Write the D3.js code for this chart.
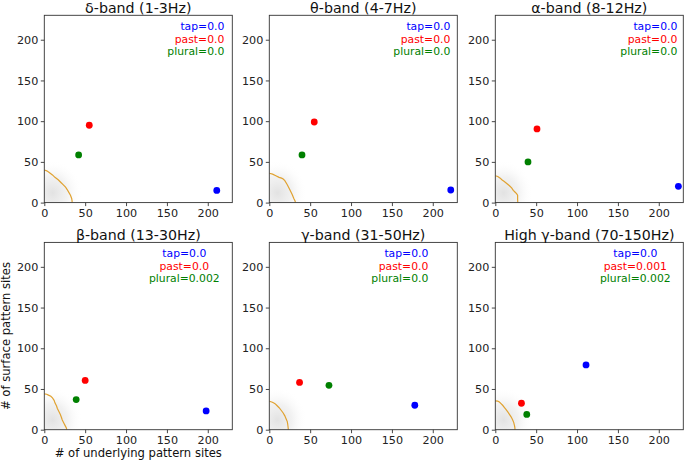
<!DOCTYPE html>
<html><head><meta charset="utf-8">
<script src="https://cdn.jsdelivr.net/npm/d3@7"></script>
<style>body{margin:0;background:#fff}svg{display:block}text{font-family:"DejaVu Sans",sans-serif}</style>
</head><body><svg id="c" width="685" height="462"></svg>
<script>
const titles = ["δ-band (1-3Hz)","θ-band (4-7Hz)","α-band (8-12Hz)","β-band (13-30Hz)","γ-band (31-50Hz)","High γ-band (70-150Hz)"];
const seriesNames = ["tap","past","plural"];
const seriesColors = ["#0000ff","#ff0000","#008000"];
const pValues = [
  ["0.0","0.0","0.0"],["0.0","0.0","0.0"],["0.0","0.0","0.0"],
  ["0.0","0.0","0.002"],["0.0","0.0","0.0"],["0.0","0.001","0.002"]];
const tapPts = [[211,15],[222,15.5],[224,20],[198,23],[178,30],[111,79.5]];
const pastPts = [[55,95],[55,99],[51,90.5],[50,60.5],[37,58],[32,32.5]];
const pluralPts = [[42,58.5],[40,58.5],[40,50],[39,37],[73,54.5],[38.5,18.7]];
const thresholdCurves = [
  [[0,40],[3,39],[6,37],[10,34],[13,31],[17,28],[20,25],[23,22],[26,19],[28,16],[30,12.5],[32,9],[33.5,5],[34,2],[34,0]],
  [[0,36],[4,35],[8,33],[12,31],[15,30],[17,29],[19,27],[22,22],[25,16],[28,10],[30,5],[31.5,2],[32,0]],
  [[0,33],[3,32],[6,30],[8,28],[11,26],[14,23.5],[17,21],[20,18],[22,15],[24,13],[26,11],[27.3,9],[27.3,4],[27.5,0]],
  [[0,44],[3,43.5],[5,42.5],[8,41],[10,39],[12,36],[13,33],[15,29],[16,26],[18,22],[19.5,19],[21,15],[22,12],[24,8],[25.5,5],[27,2],[27.5,0]],
  [[0,35],[3,34],[5,33],[7,32],[9,30],[12,27],[14,24.5],[17,20.5],[19,17],[20.5,13.5],[22,10],[22.5,7],[23,3],[23.3,0]],
  [[0,35.5],[3,35],[5,34],[7,32],[9,30],[11,27.5],[13,25],[15.5,21.5],[17.5,18.5],[19.5,15.5],[21,12.5],[22.5,9],[23.5,5],[24,2],[24,0]]
];
const ticks = [0,50,100,150,200];
const xLabel = "# of underlying pattern sites";
const yLabel = "# of surface pattern sites";

const svg = d3.select("#c");
const defs = svg.append("defs");
const grad = defs.append("radialGradient").attr("id","cloud");
grad.append("stop").attr("offset","0%").attr("stop-color","#cfcfcf").attr("stop-opacity",0.6);
grad.append("stop").attr("offset","50%").attr("stop-color","#e2e2e2").attr("stop-opacity",0.45);
grad.append("stop").attr("offset","100%").attr("stop-color","#ffffff").attr("stop-opacity",0);

const lefts = [44.3, 269.3, 495.3];
const tops = [15.3, 242.4];
const W = 188, H = 187.3;
const legendAnchor = ["end","end","end","middle","end","middle"];
const legendOffset = [180, 181, 182, 140, 159, 140];

titles.forEach((t,i)=>{
  const col = i%3, row = Math.floor(i/3);
  const x0 = lefts[col], y0 = tops[row];
  const g = svg.append("g").attr("transform",`translate(${x0},${y0})`);
  const x = d3.scaleLinear().domain([0,230]).range([0,W]);
  const y = d3.scaleLinear().domain([0,230]).range([H,0]);
  defs.append("clipPath").attr("id","clip"+i).append("rect").attr("width",W).attr("height",H);
  const pg = g.append("g").attr("clip-path",`url(#clip${i})`);
  // null-distribution cloud
  pg.append("ellipse").attr("cx",x(10)).attr("cy",y(12)).attr("rx",x(36)-x(0)).attr("ry",y(0)-y(40))
    .attr("fill","url(#cloud)");
  // threshold curve
  pg.append("path").datum(thresholdCurves[i])
    .attr("d",d3.line().x(d=>x(d[0])).y(d=>y(d[1])))
    .attr("fill","none").attr("stroke","#e0a231").attr("stroke-width",1.2);
  // points
  const pts = [tapPts[i], pastPts[i], pluralPts[i]];
  pts.forEach((p,k)=>{
    pg.append("circle").attr("cx",x(p[0])).attr("cy",y(p[1])).attr("r",3.4).attr("fill",seriesColors[k]);
  });
  // axes
  const xa = g.append("g").attr("transform",`translate(0,${H})`)
    .call(d3.axisBottom(x).tickValues(ticks).tickSize(3.5).tickPadding(2.5));
  const ya = g.append("g").call(d3.axisLeft(y).tickValues(ticks).tickSize(3.5).tickPadding(2.5));
  [xa,ya].forEach(a=>{
    a.select(".domain").remove();
    a.selectAll("line").attr("stroke","#333").attr("stroke-width",0.9);
    a.selectAll("text").attr("font-size",11.2).attr("fill","#222").attr("font-family","DejaVu Sans");
  });
  g.append("rect").attr("width",W).attr("height",H).attr("fill","none").attr("stroke","#333").attr("stroke-width",0.9);
  // title
  g.append("text").attr("x",W/2).attr("y",-2.6).attr("text-anchor","middle")
    .attr("font-size",14.2).attr("fill","#111").text(t);
  // legend texts
  const offs = [15.0, 27.4, 39.8];
  seriesNames.forEach((s,k)=>{
    g.append("text").attr("x",legendOffset[i]).attr("y",offs[k]).attr("text-anchor",legendAnchor[i])
      .attr("font-size",10.8).attr("fill",seriesColors[k]).text(`${s}=${pValues[i][k]}`);
  });
});

svg.append("text").attr("x",lefts[0]+W/2).attr("y",457).attr("text-anchor","middle")
  .attr("font-size",11.6).attr("fill","#111").text(xLabel);
svg.append("text").attr("transform",`translate(9.5,${tops[1]+H/2}) rotate(-90)`).attr("text-anchor","middle")
  .attr("font-size",11.6).attr("fill","#111").text(yLabel);
</script></body></html>
